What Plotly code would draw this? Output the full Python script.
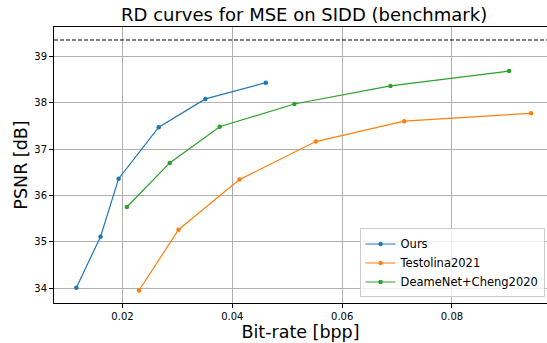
import plotly.graph_objects as go

ours_x = [0.0116, 0.0160, 0.0193, 0.0266, 0.0351, 0.0461]
ours_y = [34.01, 35.11, 36.36, 37.47, 38.08, 38.43]

testolina_x = [0.0230, 0.0302, 0.0413, 0.0552, 0.0713, 0.0944]
testolina_y = [33.95, 35.26, 36.34, 37.16, 37.60, 37.77]

deame_x = [0.0208, 0.0286, 0.0377, 0.0513, 0.0688, 0.0904]
deame_y = [35.75, 36.70, 37.48, 37.97, 38.36, 38.68]

ref_psnr = 39.35

x_ticks = [0.02, 0.04, 0.06, 0.08]
x_tick_labels = ["0.02", "0.04", "0.06", "0.08"]
y_ticks = [34, 35, 36, 37, 38, 39]
y_tick_labels = ["34", "35", "36", "37", "38", "39"]

FONT = "DejaVu Sans"

fig = go.Figure()
series = [
    ("Ours", ours_x, ours_y, "#1f77b4"),
    ("Testolina2021", testolina_x, testolina_y, "#ff7f0e"),
    ("DeameNet+Cheng2020", deame_x, deame_y, "#2ca02c"),
]
for name, xs, ys, c in series:
    fig.add_trace(go.Scatter(
        x=xs, y=ys, name=name, mode="lines+markers",
        line=dict(color=c, width=1.2),
        marker=dict(color=c, size=4.5, symbol="circle"),
    ))

fig.add_hline(y=ref_psnr, line=dict(color="black", width=1, dash="4px,2px"))

fig.update_layout(
    width=547, height=343,
    margin=dict(l=54, r=0, t=27, b=40, autoexpand=False),
    paper_bgcolor="white", plot_bgcolor="white",
    font=dict(family=FONT, color="black"),
    title=dict(text="RD curves for MSE on SIDD (benchmark)", x=0.556, xanchor="center",
               y=0.956, yanchor="middle", font=dict(size=18, family=FONT)),
    showlegend=True,
    legend=dict(x=0.995, y=0.02, xanchor="right", yanchor="bottom",
                bgcolor="rgba(255,255,255,0.8)", bordercolor="#cccccc", borderwidth=1,
                font=dict(size=11.5, family=FONT), tracegroupgap=0,
                itemwidth=30),
)
fig.update_xaxes(
    range=[0.00753, 0.0973], tickvals=x_ticks, ticktext=x_tick_labels,
    showgrid=True, gridcolor="#b0b0b0", gridwidth=1,
    showline=True, linecolor="black", linewidth=1, mirror=True,
    ticks="outside", ticklen=4, tickcolor="black", tickfont=dict(size=10),
    title=dict(text="Bit-rate [bpp]", font=dict(size=17.5), standoff=2),
    zeroline=False, automargin=False,
)
fig.update_yaxes(
    range=[33.68, 39.63], tickvals=y_ticks, ticktext=y_tick_labels,
    showgrid=True, gridcolor="#b0b0b0", gridwidth=1,
    showline=True, linecolor="black", linewidth=1, mirror=True,
    ticks="outside", ticklen=4, tickcolor="black", tickfont=dict(size=10),
    title=dict(text="PSNR [dB]", font=dict(size=17.5), standoff=2),
    zeroline=False, automargin=False,
)

fig.write_html("out.html", config={"displayModeBar": False},
               post_script="document.body.style.margin='0';")
